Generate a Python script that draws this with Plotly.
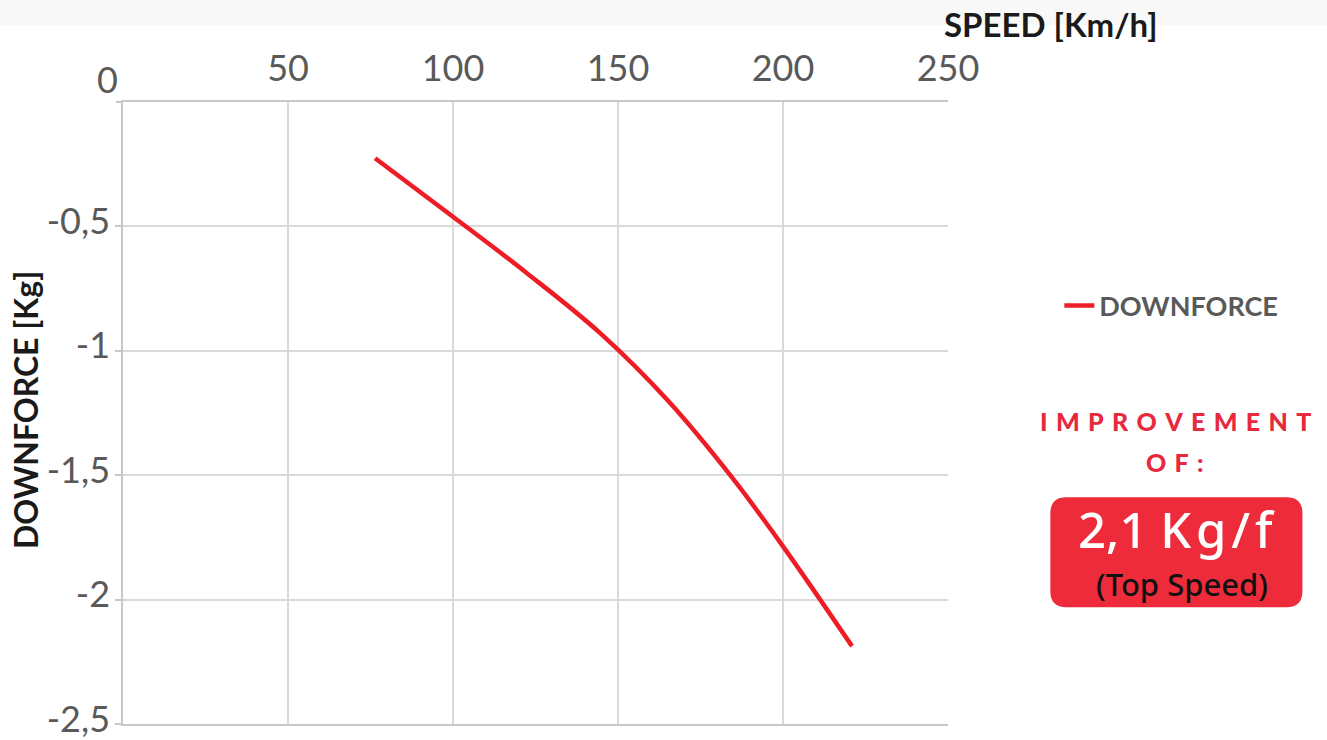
import plotly.graph_objects as go

# ---- data ----
speed_kmh = [76.4, 100, 122.4, 144.6, 164.9, 184.6, 200, 220.9]
downforce_kg = [-0.226, -0.461, -0.688, -0.929, -1.197, -1.51, -1.786, -2.187]

x_ticks = [0, 50, 100, 150, 200, 250]
x_ticklabels = ["", "50", "100", "150", "200", "250"]
y_ticks = [0, -0.5, -1, -1.5, -2, -2.5]
y_ticklabels = ["0", "-0,5", "-1", "-1,5", "-2", "-2,5"]

# ---- layout geometry (pixels) ----
W, H = 1327, 740
L, R, T, B = 123, 947.7, 102, 723.8


def px(xp):
    return (xp - L) / (R - L)


def py(yp):
    return (B - yp) / (B - T)


RED = "#ee1c25"
fig = go.Figure()
fig.add_trace(go.Scatter(
    x=speed_kmh, y=downforce_kg, mode="lines", name="DOWNFORCE",
    line=dict(color=RED, width=4.5, shape="spline", smoothing=1.0),
))

# invisible trace to carry the "0" label on an overlaid axis
fig.add_trace(go.Scatter(x=[None], y=[None], yaxis="y2", showlegend=False))

axis_font = dict(family="Lato", size=36, color="#595959")

fig.update_layout(
    width=W, height=H,
    margin=dict(l=L, r=W - R, t=T, b=H - B, autoexpand=False),
    paper_bgcolor="white", plot_bgcolor="white",
    showlegend=True,
    legend=dict(
        x=px(1059), y=py(306), xanchor="left", yanchor="middle",
        font=dict(family="Lato", size=27, color="#595959", weight="bold"),
        bgcolor="rgba(0,0,0,0)", itemwidth=30,
    ),
    xaxis=dict(
        side="top", range=[0, 250], tickvals=x_ticks, ticktext=x_ticklabels,
        showgrid=True, gridcolor="#d9d9d9", gridwidth=1.5,
        showline=True, linecolor="#c8c8c8", linewidth=1.5, mirror=True,
        ticks="", tickfont=axis_font, zeroline=False, ticklabelstandoff=5,
        automargin=False,
    ),
    yaxis=dict(
        range=[-2.5, 0], tickvals=y_ticks[1:], ticktext=y_ticklabels[1:],
        showgrid=True, gridcolor="#d9d9d9", gridwidth=1.5,
        showline=True, linecolor="#c8c8c8", linewidth=1.5,
        ticks="outside", ticklen=6, tickcolor="#c8c8c8", tickwidth=1.5,
        tickfont=axis_font, zeroline=False, ticklabelstandoff=-2,
        ticklabelshift=-5, ticklabeloverflow="allow", automargin=False,
    ),
    yaxis2=dict(
        overlaying="y", range=[-2.5, 0], tickvals=y_ticks[:1], ticktext=y_ticklabels[:1],
        showgrid=False, zeroline=False, showline=False, side="left",
        ticks="outside", ticklen=6, tickcolor="#c8c8c8", tickwidth=1.5,
        tickfont=axis_font, ticklabelshift=-22, ticklabelstandoff=-9,
        automargin=False,
    ),
)

# top light band
fig.add_shape(type="rect", xref="paper", yref="paper",
              x0=px(0), x1=px(W), y0=py(25), y1=py(0),
              fillcolor="#f8f8f8", line=dict(width=0), layer="below")

# rounded red box
x0, x1, y0, y1, r = 1050, 1302, 497, 607, 16
path = (
    f"M {px(x0 + r)},{py(y0)} L {px(x1 - r)},{py(y0)} "
    f"Q {px(x1)},{py(y0)} {px(x1)},{py(y0 + r)} "
    f"L {px(x1)},{py(y1 - r)} Q {px(x1)},{py(y1)} {px(x1 - r)},{py(y1)} "
    f"L {px(x0 + r)},{py(y1)} Q {px(x0)},{py(y1)} {px(x0)},{py(y1 - r)} "
    f"L {px(x0)},{py(y0 + r)} Q {px(x0)},{py(y0)} {px(x0 + r)},{py(y0)} Z"
)
fig.add_shape(type="path", xref="paper", yref="paper", path=path,
              fillcolor="#ee2b3b", line=dict(width=0))

sp = "\u2004"
hs = "\u200a"
ann = [
    dict(text="<b>SPEED [Km/h]</b>", x=px(1051), y=py(24),
         font=dict(family="Lato", size=33, color="#1a1a1a")),
    dict(text="<b>DOWNFORCE [Kg]</b>", x=px(25), y=py(410), textangle=-90,
         font=dict(family="Lato", size=32, color="#1a1a1a")),
    dict(text=sp.join("IMPROVEMENT"), x=px(1175), y=py(421),
         font=dict(family="Lato", size=25, color="#e8283c", weight=900)),
    dict(text=sp.join("OF:"), x=px(1175), y=py(462),
         font=dict(family="Lato", size=25, color="#e8283c", weight=900)),
    dict(text="2,1 " + hs.join("Kg/f"), x=px(1176), y=py(529),
         font=dict(family="Noto Sans", size=49, color="white", weight=500)),
    dict(text="(Top Speed)", x=px(1182), y=py(584),
         font=dict(family="Noto Sans", size=31, color="#111111", weight=500)),
]
for a in ann:
    fig.add_annotation(xref="paper", yref="paper", showarrow=False,
                       xanchor="center", yanchor="middle", **a)

fig.write_html("out.html", config={"displayModeBar": False},
               post_script="document.body.style.margin='0';")
